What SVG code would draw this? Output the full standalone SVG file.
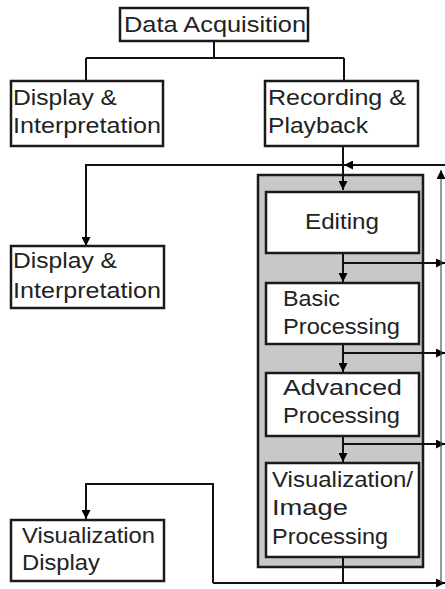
<svg xmlns="http://www.w3.org/2000/svg" width="445" height="589" viewBox="0 0 445 589">
<defs>
<marker id="ah" viewBox="0 0 10 10" refX="10" refY="5" markerWidth="9" markerHeight="9" markerUnits="userSpaceOnUse" orient="auto">
<path d="M0,0 L10,5 L0,10 z" fill="#000"/>
</marker>
</defs>
<style>
.box{fill:#fff;stroke:#1a1a1a;stroke-width:2.5}
.grp{fill:#c8c8c8;stroke:#1a1a1a;stroke-width:2.5}
.t{font-family:"Liberation Sans",Arial,sans-serif;font-size:22px;fill:#222}
.ln{fill:none;stroke:#111;stroke-width:2}
.thin{fill:none;stroke:#555;stroke-width:1.2}
</style>
<g id="group-box"><rect class="grp" x="258" y="175" width="165" height="392"/></g>
<g id="connectors">
<path class="ln" d="M214,41 V58 M86,58 H344 M86,58 V81 M344,58 V81"/>
<path class="ln" d="M343,146 V190" marker-end="url(#ah)"/>
<path class="ln" d="M445,165 H344" marker-end="url(#ah)"/>
<path class="ln" d="M344,165 H86 V246" marker-end="url(#ah)"/>
<path class="ln" d="M343,253 V282" marker-end="url(#ah)"/>
<path class="ln" d="M343,263 H445" marker-end="url(#ah)"/>
<path class="ln" d="M343,344 V372" marker-end="url(#ah)"/>
<path class="ln" d="M343,353 H445" marker-end="url(#ah)"/>
<path class="ln" d="M343,436 V462" marker-end="url(#ah)"/>
<path class="ln" d="M343,444 H445" marker-end="url(#ah)"/>
<path class="ln" d="M343,557 V583 M213,583 H343"/>
<path class="ln" d="M343,583 H445" marker-end="url(#ah)"/>
<path class="ln" d="M213,583 V484 H86 V519" marker-end="url(#ah)"/>
<path class="thin" d="M441,583 V170" marker-end="url(#ah)"/>
</g>
<g id="data-acquisition"><rect class="box" x="120" y="8" width="188" height="33"/><text class="t" x="124" y="32" textLength="182" lengthAdjust="spacingAndGlyphs">Data Acquisition</text></g>
<g id="display-interpretation-1"><rect class="box" x="11" y="81" width="152" height="65"/><text class="t" x="13" y="105" textLength="104" lengthAdjust="spacingAndGlyphs">Display &amp;</text><text class="t" x="13" y="133" textLength="148" lengthAdjust="spacingAndGlyphs">Interpretation</text></g>
<g id="recording-playback"><rect class="box" x="265" y="81" width="153" height="65"/><text class="t" x="268" y="105" textLength="138" lengthAdjust="spacingAndGlyphs">Recording &amp;</text><text class="t" x="268" y="133" textLength="100" lengthAdjust="spacingAndGlyphs">Playback</text></g>
<g id="display-interpretation-2"><rect class="box" x="11" y="246" width="153" height="62"/><text class="t" x="13" y="268" textLength="104" lengthAdjust="spacingAndGlyphs">Display &amp;</text><text class="t" x="13" y="298" textLength="148" lengthAdjust="spacingAndGlyphs">Interpretation</text></g>
<g id="editing"><rect class="box" x="266" y="192" width="153" height="61"/><text class="t" x="305" y="229" textLength="74" lengthAdjust="spacingAndGlyphs">Editing</text></g>
<g id="basic-processing"><rect class="box" x="266" y="283" width="153" height="61"/><text class="t" x="283" y="306" textLength="57" lengthAdjust="spacingAndGlyphs">Basic</text><text class="t" x="283" y="334" textLength="117" lengthAdjust="spacingAndGlyphs">Processing</text></g>
<g id="advanced-processing"><rect class="box" x="266" y="373" width="153" height="63"/><text class="t" x="283" y="395" textLength="119" lengthAdjust="spacingAndGlyphs">Advanced</text><text class="t" x="283" y="423" textLength="117" lengthAdjust="spacingAndGlyphs">Processing</text></g>
<g id="visualization-image-processing"><rect class="box" x="266" y="463" width="153" height="94"/><text class="t" x="272" y="487" textLength="141" lengthAdjust="spacingAndGlyphs">Visualization/</text><text class="t" x="272" y="515" textLength="76" lengthAdjust="spacingAndGlyphs">Image</text><text class="t" x="272" y="544" textLength="116" lengthAdjust="spacingAndGlyphs">Processing</text></g>
<g id="visualization-display"><rect class="box" x="11" y="520" width="153" height="61"/><text class="t" x="22" y="543" textLength="133" lengthAdjust="spacingAndGlyphs">Visualization</text><text class="t" x="22" y="570" textLength="78" lengthAdjust="spacingAndGlyphs">Display</text></g>
</svg>
